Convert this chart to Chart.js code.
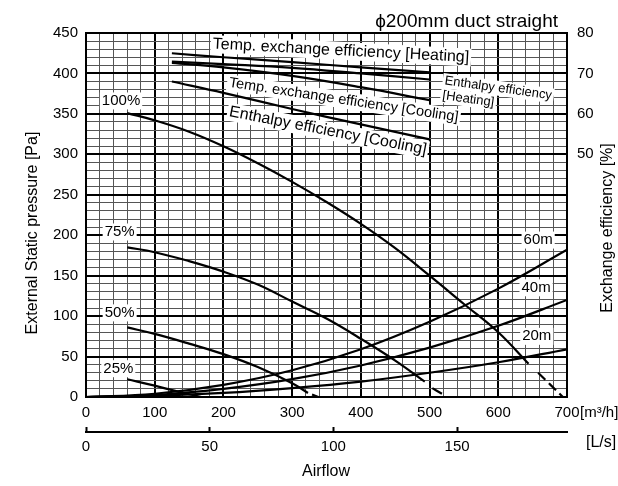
<!DOCTYPE html>
<html>
<head>
<meta charset="utf-8">
<script src="https://cdn.jsdelivr.net/npm/chart.js@4.4.1/dist/chart.umd.min.js"></script>
<style>
  html, body { margin: 0; padding: 0; background: #fff; }
</style>
</head>
<body>
<canvas id="myChart" width="618" height="486"></canvas>
<script>
var FONT = "'Liberation Sans', Arial, sans-serif";

// fan curves: airflow [m3/h] -> external static pressure [Pa]
var fan100Q = [60, 100, 150, 200, 250, 300, 350, 400, 450, 500, 550, 600, 644];
var fan100P = [351, 342, 328, 310, 289, 266, 241, 214, 184, 150, 115, 80, 41];
var fan100TailQ = [658, 694];
var fan100TailP = [30, 0];

var fan75Q = [60, 100, 150, 200, 250, 300, 350, 400, 450, 493];
var fan75P = [185, 179, 168, 155, 139, 118, 97, 72, 45, 19];
var fan75TailQ = [504, 518];
var fan75TailP = [11, 4];

var fan50Q = [60, 100, 150, 200, 250, 300, 323];
var fan50P = [86, 78, 66, 53, 37, 17, 5];
var fan50TailQ = [329, 338];
var fan50TailP = [3, 0];

var fan25Q = [60, 100, 137, 168];
var fan25P = [22, 14, 6, 0];

// duct resistance curves
var ductQ = [0, 100, 200, 300, 400, 500, 600, 700];
var duct60 = [0, 4, 15, 33, 59, 93, 134, 182];
var duct40 = [0, 2.5, 10, 22, 39, 61, 88, 120];
var duct20 = [0, 1.5, 5, 11, 19, 30, 43, 59];

// exchange efficiency [%]
var effQ = [125, 200, 300, 400, 500];
var tempHeat = [75, 74, 72.8, 71.5, 70.3];
var enthHeat = [72.9, 72.3, 71.4, 70, 68.5];
var tempCool = [72.6, 71.5, 69.4, 66.6, 63.4];
var enthCool = [68, 65.2, 61.2, 57.4, 53.7];

// curve labels (data units)
var curveLabels = ['100%', '75%', '50%', '25%', '60m', '40m', '20m'];
var curveLabelQ = [51, 49, 49, 47, 658, 655, 656];
var curveLabelP = [366, 204, 104, 35, 194, 135, 75];

var effLabels = [
  { lines: ['Temp. exchange efficiency [Heating]'], q: 371, p: 428, rot: 3, size: 16, align: 'center' },
  { lines: ['Temp. exchange efficiency [Cooling]'], q: 375, p: 367, rot: 8.6, size: 14.5, align: 'center' },
  { lines: ['Enthalpy efficiency [Cooling]'], q: 352, p: 329, rot: 11, size: 16, align: 'center' },
  { lines: ['Enthalpy efficiency', '[Heating]'], q: 522, p: 391, rot: 8, size: 13, align: 'left' }
];

function pts(qs, ps) {
    var out = [];
    for (var i = 0; i < qs.length; i++) {
        out.push({x: qs[i], y: ps[i]});
    }
    return out;
}

function curve(qs, ps, axis, dash) {
    return {
        data: pts(qs, ps),
        yAxisID: axis || 'y',
        borderColor: '#000',
        borderWidth: 2.2,
        borderDash: dash || [],
        pointRadius: 0,
        fill: false,
        tension: 0.4
    };
}

function boxText(ctx, text, x, y, align) {
    var w = ctx.measureText(text).width;
    var h = parseFloat(ctx.font) + 2;
    var left = align === 'left' ? x : x - w / 2;
    ctx.fillStyle = '#fff';
    ctx.fillRect(left - 2, y - h / 2, w + 4, h);
    ctx.fillStyle = '#000';
    ctx.textAlign = align;
    ctx.fillText(text, x, y);
}

var textPlugin = {
    id: 'texts',
    beforeDatasetsDraw: function (chart) {
        var ctx = chart.ctx;
        var xs = chart.scales.x, ys = chart.scales.y;
        ctx.save();
        ctx.textBaseline = 'middle';
        ctx.font = '15px ' + FONT;
        for (var i = 0; i < curveLabels.length; i++) {
            boxText(ctx, curveLabels[i], xs.getPixelForValue(curveLabelQ[i]), ys.getPixelForValue(curveLabelP[i]), 'center');
        }
        for (var j = 0; j < effLabels.length; j++) {
            var lb = effLabels[j];
            ctx.save();
            ctx.translate(xs.getPixelForValue(lb.q), ys.getPixelForValue(lb.p));
            ctx.rotate(lb.rot * Math.PI / 180);
            ctx.font = lb.size + 'px ' + FONT;
            for (var k = 0; k < lb.lines.length; k++) {
                boxText(ctx, lb.lines[k], 0, k * (lb.size + 2), lb.align);
            }
            ctx.restore();
        }
        ctx.restore();
    },
    afterDraw: function (chart) {
        var ctx = chart.ctx;
        ctx.save();
        ctx.fillStyle = '#000';

        ctx.font = '19px ' + FONT;
        ctx.textAlign = 'right';
        ctx.textBaseline = 'alphabetic';
        ctx.fillText('\u03d5200mm duct straight', 558, 27);

        ctx.textBaseline = 'middle';
        ctx.font = '16px ' + FONT;
        ctx.textAlign = 'center';
        ctx.fillText('Airflow', 326, 472);

        ctx.save();
        ctx.translate(33, 233);
        ctx.rotate(-Math.PI / 2);
        ctx.fillText('External Static pressure [Pa]', 0, 0);
        ctx.restore();

        ctx.save();
        ctx.translate(608, 228);
        ctx.rotate(-Math.PI / 2);
        ctx.fillText('Exchange efficiency [%]', 0, 0);
        ctx.restore();

        ctx.textAlign = 'left';
        ctx.fillText('[L/s]', 586, 443);
        ctx.font = '15px ' + FONT;
        ctx.fillText('[m\u00b3/h]', 580, 413);
        ctx.restore();
    }
};

function gridColor(step) {
    return function (c) { return c.tick.value % step === 0 ? '#000' : '#555'; };
}
function gridWidth(step) {
    return function (c) { return c.tick.value % step === 0 ? 2 : 1; };
}

var tickFont = {size: 15, family: FONT};

var ctx = document.getElementById('myChart').getContext('2d');
var myChart = new Chart(ctx, {
    type: 'line',
    data: {
        datasets: [
            curve(fan100Q, fan100P),
            curve(fan100TailQ, fan100TailP, 'y', [10, 5]),
            curve(fan75Q, fan75P),
            curve(fan75TailQ, fan75TailP),
            curve(fan50Q, fan50P),
            curve(fan50TailQ, fan50TailP),
            curve(fan25Q, fan25P),
            curve(ductQ, duct60),
            curve(ductQ, duct40),
            curve(ductQ, duct20),
            curve(effQ, tempHeat, 'y2'),
            curve(effQ, enthHeat, 'y2'),
            curve(effQ, tempCool, 'y2'),
            curve(effQ, enthCool, 'y2')
        ]
    },
    options: {
        responsive: false,
        animation: false,
        layout: {padding: {top: 33, left: 0, right: 0, bottom: 0}},
        plugins: {legend: {display: false}, tooltip: {enabled: false}},
        scales: {
            x: {
                type: 'linear', position: 'bottom', min: 0, max: 700, weight: 0,
                afterFit: function (s) { s.height = 35; },
                ticks: {
                    stepSize: 20, autoSkip: false, maxRotation: 0, padding: 7, color: '#000', font: tickFont,
                    callback: function (v) { return v % 100 === 0 ? String(v) : ''; }
                },
                grid: {drawTicks: false, color: gridColor(100), lineWidth: gridWidth(100)},
                border: {display: true, color: '#000', width: 2}
            },
            x2: {
                type: 'linear', position: 'bottom', min: 0, max: 700 / 3.6, weight: 1,
                afterFit: function (s) { s.height = 54; },
                ticks: {
                    stepSize: 50, includeBounds: false, autoSkip: false, maxRotation: 0, padding: 11,
                    color: '#000', font: tickFont
                },
                grid: {drawOnChartArea: false, drawTicks: true, tickLength: -5, tickColor: '#000', tickWidth: 2},
                border: {display: true, color: '#000', width: 2}
            },
            y: {
                type: 'linear', position: 'left', min: 0, max: 450,
                afterFit: function (s) { s.width = 86; },
                ticks: {
                    stepSize: 10, autoSkip: false, padding: 8, color: '#000', font: tickFont,
                    callback: function (v) { return v % 50 === 0 ? String(v) : ''; }
                },
                grid: {drawTicks: false, color: gridColor(50), lineWidth: gridWidth(50)},
                border: {display: true, color: '#000', width: 2}
            },
            y2: {
                type: 'linear', position: 'right', min: -10, max: 80,
                afterFit: function (s) { s.width = 51; },
                ticks: {
                    stepSize: 10, autoSkip: false, padding: 10, color: '#000', font: tickFont,
                    callback: function (v) { return v >= 50 ? String(v) : ''; }
                },
                grid: {drawOnChartArea: false, drawTicks: false},
                border: {display: true, color: '#000', width: 2}
            }
        }
    },
    plugins: [textPlugin]
});
</script>
</body>
</html>
